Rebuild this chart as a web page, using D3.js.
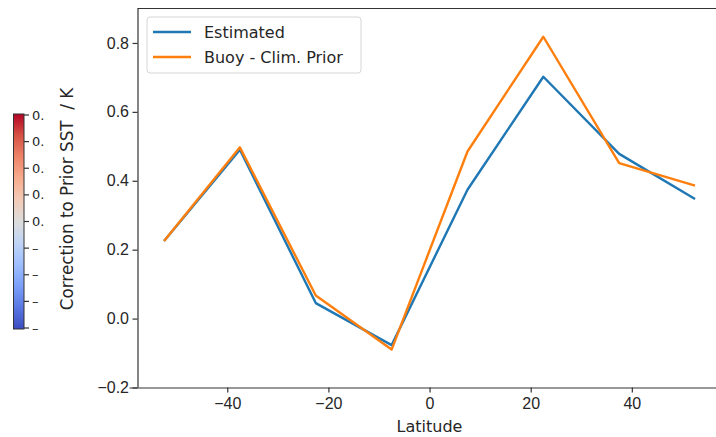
<!DOCTYPE html>
<html>
<head>
<meta charset="utf-8">
<script src="https://cdn.jsdelivr.net/npm/d3@7"></script>
<style>
  body { margin: 0; background: #fff; }
  svg { display: block; font-family: 'DejaVu Sans', sans-serif; }
  .axis text { font-size: 16px; fill: #262626; }
  .axis path, .axis line { stroke: #333; stroke-width: 1.2; }
</style>
</head>
<body>
<div id="chart"></div>
<script>
// latitude band centres
let latitudes = [-52.5, -37.5, -22.5, -7.5, 7.5, 22.5, 37.5, 52.5];
let estimated = [0.225, 0.49, 0.045, -0.077, 0.374, 0.702, 0.478, 0.347];
let buoyPrior = [0.225, 0.497, 0.067, -0.09, 0.485, 0.818, 0.451, 0.386];
let xTicks = [-40, -20, 0, 20, 40];
let yTicks = [-0.2, 0.0, 0.2, 0.4, 0.6, 0.8];
// colorbar of the neighbouring panel, labels cut off by the crop
let cbarLabels = ['0.', '0.', '0.', '0.', '0.', '\u2013', '\u2013', '\u2013', '\u2013'];

let width = 716;
let height = 437;
let margin = { top: 8.5, bottom: 49.5, left: 137.5, right: -5.6 };

let svg = d3.select('#chart')
  .append('svg')
  .attr('width', width)
  .attr('height', height);

let xScale = d3.scaleLinear()
  .domain([-57.75, 57.75])
  .range([margin.left, width - margin.right]);

let yScale = d3.scaleLinear()
  .domain([-0.2, 0.9])
  .range([height - margin.bottom, margin.top]);

// COLORBAR (coolwarm)
let coolwarm = ['#3b4cc0', '#5977e3', '#7b9ff9', '#9ebeff', '#c0d4f5', '#dddcdc',
  '#f2cbb7', '#f7ac8e', '#ee8468', '#d65244', '#b40426'];
let grad = svg.append('defs').append('linearGradient')
  .attr('id', 'cw')
  .attr('x1', 0).attr('y1', 1).attr('x2', 0).attr('y2', 0);
coolwarm.forEach((c, i) => {
  grad.append('stop').attr('offset', i / (coolwarm.length - 1)).attr('stop-color', c);
});

let cbarScale = d3.scaleLinear()
  .domain([0, cbarLabels.length - 1])
  .range([115, 328]);

svg.append('rect')
  .attr('x', 13.5).attr('y', 114)
  .attr('width', 10.5).attr('height', 215)
  .attr('fill', 'url(#cw)')
  .attr('stroke', '#333').attr('stroke-width', 1);

let cbar = svg.append('g').attr('class', 'axis');
cbar.selectAll('line')
  .data(cbarLabels)
  .join('line')
  .attr('x1', 24).attr('x2', 29)
  .attr('y1', (d, i) => cbarScale(i))
  .attr('y2', (d, i) => cbarScale(i));
cbar.selectAll('text')
  .data(cbarLabels)
  .join('text')
  .attr('x', 32)
  .attr('y', (d, i) => cbarScale(i))
  .attr('dy', '0.35em')
  .style('font-size', '13px')
  .text(d => d);

// AXES
svg.append('g')
  .attr('class', 'axis x-axis')
  .attr('transform', `translate(0,${height - margin.bottom})`)
  .call(d3.axisBottom(xScale).tickValues(xTicks).tickSize(5).tickPadding(5)
    .tickFormat(d => d < 0 ? '\u2212' + Math.abs(d) : d))
  .call(g => g.select('.domain').attr('d', `M${margin.left - 8},0.5H${width}`));

svg.append('g')
  .attr('class', 'axis y-axis')
  .attr('transform', `translate(${margin.left},0)`)
  .call(d3.axisLeft(yScale).tickValues(yTicks).tickSize(5).tickPadding(3.5)
    .tickFormat(d => (d < 0 ? '\u2212' : '') + Math.abs(d).toFixed(1)))
  .call(g => g.select('.domain').attr('d', `M0.5,${height - margin.bottom}V${margin.top}`));

// top spine
svg.append('line')
  .attr('x1', margin.left).attr('x2', width)
  .attr('y1', margin.top).attr('y2', margin.top)
  .attr('stroke', '#333').attr('stroke-width', 1.2);

// axis labels
svg.append('text')
  .attr('x', xScale(0))
  .attr('y', 432)
  .attr('text-anchor', 'middle')
  .style('font-size', '16px')
  .attr('fill', '#262626')
  .text('Latitude');

svg.append('text')
  .attr('transform', 'translate(73,199) rotate(-90)')
  .attr('text-anchor', 'middle')
  .style('font-size', '16.8px')
  .style('white-space', 'pre')
  .attr('fill', '#262626')
  .text('Correction to Prior SST  / K');

// LINES
let line = d3.line()
  .x(d => xScale(d[0]))
  .y(d => yScale(d[1]));

let series = [
  { name: 'Estimated', values: estimated, color: '#1f77b4' },
  { name: 'Buoy - Clim. Prior', values: buoyPrior, color: '#ff7f0e' },
];

svg.selectAll('.series')
  .data(series)
  .join('path')
  .attr('class', 'series')
  .attr('fill', 'none')
  .attr('stroke', d => d.color)
  .attr('stroke-width', 2.4)
  .attr('stroke-linejoin', 'round')
  .attr('d', d => line(latitudes.map((lat, i) => [lat, d.values[i]])));

// LEGEND
let legend = svg.append('g').attr('transform', 'translate(147,17)');
legend.append('rect')
  .attr('width', 214).attr('height', 56)
  .attr('rx', 3)
  .attr('fill', '#fff')
  .attr('stroke', '#d6d6d6');
let item = legend.selectAll('.item')
  .data(series)
  .join('g')
  .attr('class', 'item')
  .attr('transform', (d, i) => `translate(0,${15 + i * 25})`);
item.append('line')
  .attr('x1', 6).attr('x2', 44)
  .attr('stroke', d => d.color)
  .attr('stroke-width', 2.4);
item.append('text')
  .attr('x', 57)
  .attr('dy', '0.35em')
  .style('font-size', '16px')
  .attr('fill', '#262626')
  .text(d => d.name);
</script>
</body>
</html>
